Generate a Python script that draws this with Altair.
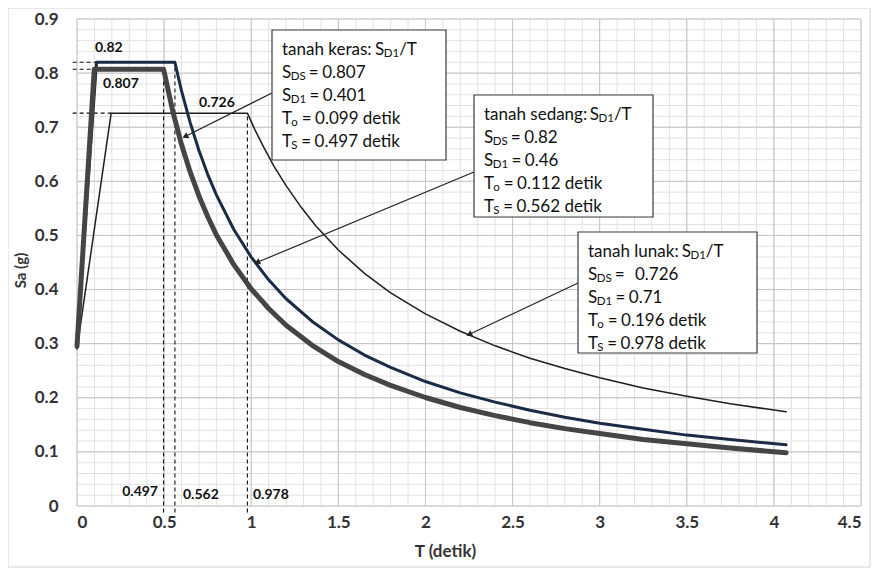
import math
import altair as alt
import numpy as np
import pandas as pd

# ---------------- data ----------------
soil = ["tanah keras", "tanah sedang", "tanah lunak"]
SDS = [0.807, 0.82, 0.726]
SD1 = [0.401, 0.46, 0.71]
T0 = [0.099, 0.112, 0.196]
TS = [0.497, 0.562, 0.978]

keras_T = [0, 0.099, 0.497, 0.55, 0.6, 0.65, 0.7, 0.75, 0.8, 0.9, 1.0, 1.1, 1.2, 1.35, 1.5,
           1.65, 1.8, 2.0, 2.2, 2.4, 2.6, 2.8, 3.0, 3.25, 3.5, 3.75, 4.07]
keras_Sa = [0.295, 0.807, 0.807, 0.729, 0.668, 0.617, 0.573, 0.535, 0.501, 0.446, 0.401, 0.365,
            0.334, 0.297, 0.267, 0.243, 0.223, 0.2005, 0.182, 0.167, 0.154, 0.143, 0.134,
            0.123, 0.115, 0.107, 0.0985]

sedang_T = [0, 0.112, 0.562, 0.6, 0.65, 0.7, 0.75, 0.8, 0.9, 1.0, 1.1, 1.2, 1.35, 1.5, 1.65,
            1.8, 2.0, 2.2, 2.4, 2.6, 2.8, 3.0, 3.25, 3.5, 3.75, 4.07]
sedang_Sa = [0.31, 0.82, 0.82, 0.767, 0.708, 0.657, 0.613, 0.575, 0.511, 0.46, 0.418, 0.383,
             0.341, 0.307, 0.279, 0.256, 0.23, 0.209, 0.192, 0.177, 0.164, 0.153, 0.142,
             0.131, 0.123, 0.113]

lunak_T = [0, 0.196, 0.978, 1.02, 1.07, 1.13, 1.2, 1.28, 1.37, 1.5, 1.65, 1.8, 2.0, 2.2, 2.4,
           2.6, 2.8, 3.0, 3.25, 3.5, 3.75, 4.07]
lunak_Sa = [0.290, 0.726, 0.726, 0.696, 0.664, 0.628, 0.592, 0.555, 0.518, 0.473, 0.430,
            0.394, 0.355, 0.323, 0.296, 0.273, 0.254, 0.237, 0.218, 0.203, 0.189, 0.174]

x_ticks = [0, 0.5, 1, 1.5, 2, 2.5, 3, 3.5, 4, 4.5]
y_ticks = [0, 0.1, 0.2, 0.3, 0.4, 0.5, 0.6, 0.7, 0.8, 0.9]

# ---------------- layout helpers ----------------
W_PLOT, H_PLOT = 784, 487
XMAX, YMAX = 4.5, 0.9
PXX = W_PLOT / XMAX
PXY = H_PLOT / YMAX
FONT = "Lato"


def px2T(px):
    return (px - 77) / PXX


def px2S(py):
    return (506 - py) / PXY


xs = alt.Scale(domain=[0, XMAX], nice=False, zero=False)
ys = alt.Scale(domain=[0, YMAX], nice=False, zero=False)

# ---------------- grid ----------------
x_minor = [round(v, 2) for v in np.arange(0, XMAX + 1e-9, 0.1)]
y_minor = [round(v, 3) for v in np.arange(0, YMAX + 1e-9, 0.02)]

vgrid_minor = alt.Chart(pd.DataFrame({"x": x_minor})).mark_rule(color="#e2e2e2", strokeWidth=1).encode(
    x=alt.X("x:Q", scale=xs), y=alt.datum(0), y2=alt.datum(YMAX))
hgrid_minor = alt.Chart(pd.DataFrame({"y": y_minor})).mark_rule(color="#e2e2e2", strokeWidth=1).encode(
    y=alt.Y("y:Q", scale=ys), x=alt.datum(0), x2=alt.datum(XMAX))
vgrid_major = alt.Chart(pd.DataFrame({"x": x_ticks})).mark_rule(color="#c4c4c4", strokeWidth=1).encode(
    x=alt.X("x:Q", scale=xs), y=alt.datum(0), y2=alt.datum(YMAX))
hgrid_major = alt.Chart(pd.DataFrame({"y": y_ticks})).mark_rule(color="#c4c4c4", strokeWidth=1).encode(
    y=alt.Y("y:Q", scale=ys), x=alt.datum(0), x2=alt.datum(XMAX))

# axes layer (labels only)
axes = alt.Chart(pd.DataFrame({"x": [0], "y": [0]})).mark_point(opacity=0).encode(
    x=alt.X("x:Q", scale=xs, axis=alt.Axis(
        values=x_ticks, format="~g", grid=False, domain=False, ticks=False,
        labelFont=FONT, labelFontSize=17, labelFontWeight="bold", labelColor="#333333",
        labelPadding=8, title="T (detik)", titleFont=FONT, titleFontSize=17,
        titleFontWeight="bold", titleColor="#333333", titleX=368, titleY=45,
        titleBaseline="middle")),
    y=alt.Y("y:Q", scale=ys, axis=alt.Axis(
        values=y_ticks, format="~g", grid=False, domain=False, ticks=False,
        labelFont=FONT, labelFontSize=17, labelFontWeight="bold", labelColor="#333333",
        labelPadding=19, title="Sa (g)", titleFont=FONT, titleFontSize=15,
        titleFontWeight="bold", titleColor="#333333", titleX=-57, titleY=251,
        titleBaseline="middle", titleAlign="center", titleAngle=-90)),
)

# ---------------- dashed guides ----------------
hdash = pd.DataFrame({"x": [-0.025] * 3, "x2": T0, "y": SDS})
vdash = pd.DataFrame({"x": TS, "y": [-0.012] * 3, "y2": SDS})
hd = alt.Chart(hdash).mark_rule(color="#111111", strokeWidth=1.1, strokeDash=[4, 3]).encode(
    x=alt.X("x:Q", scale=xs), x2="x2:Q", y=alt.Y("y:Q", scale=ys))
vd = alt.Chart(vdash).mark_rule(color="#111111", strokeWidth=1.1, strokeDash=[4, 3]).encode(
    x=alt.X("x:Q", scale=xs), y=alt.Y("y:Q", scale=ys), y2="y2:Q")

# ---------------- curves ----------------
def curve(T, S, color, width):
    return alt.Chart(pd.DataFrame({"T": T, "Sa": S})).mark_line(
        color=color, strokeWidth=width, strokeJoin="round", strokeCap="round").encode(
        x=alt.X("T:Q", scale=xs), y=alt.Y("Sa:Q", scale=ys))


c_lunak = curve(lunak_T, lunak_Sa, "#1e1e1e", 1.5)
c_sedang = curve(sedang_T, sedang_Sa, "#1b2a45", 3)
c_keras = curve(keras_T, keras_Sa, "#454545", 5)

# ---------------- value labels ----------------
val_df = pd.DataFrame({
    "x": [px2T(95), px2T(103), px2T(199)],
    "y": [px2S(48), px2S(84), px2S(103)],
    "t": [f"{SDS[1]:g}", f"{SDS[0]:g}", f"{SDS[2]:g}"],
})
val_l = alt.Chart(val_df).mark_text(align="left", baseline="middle", font=FONT, fontSize=14,
                                    fontWeight="bold", color="#111111").encode(
    x=alt.X("x:Q", scale=xs), y=alt.Y("y:Q", scale=ys), text="t:N")
ts_df = pd.DataFrame({
    "x": [px2T(158), px2T(183), px2T(253)],
    "y": [px2S(492), px2S(495), px2S(495)],
    "t": [f"{v:g}" for v in TS],
})
ts_r = alt.Chart(ts_df.iloc[[0]]).mark_text(align="right", baseline="middle", font=FONT, fontSize=14,
                                            fontWeight="bold", color="#111111").encode(
    x=alt.X("x:Q", scale=xs), y=alt.Y("y:Q", scale=ys), text="t:N")
ts_l = alt.Chart(ts_df.iloc[[1, 2]]).mark_text(align="left", baseline="middle", font=FONT, fontSize=14,
                                               fontWeight="bold", color="#111111").encode(
    x=alt.X("x:Q", scale=xs), y=alt.Y("y:Q", scale=ys), text="t:N")

# ---------------- annotation boxes ----------------
box_px = [(272, 30, 446, 160), (474, 95, 653, 217), (578, 232, 757, 353)]
box_df = pd.DataFrame({
    "x": [px2T(b[0]) for b in box_px], "x2": [px2T(b[2]) for b in box_px],
    "y": [px2S(b[1]) for b in box_px], "y2": [px2S(b[3]) for b in box_px],
})
boxes = alt.Chart(box_df).mark_rect(fill="white", stroke="#3a3a3a", strokeWidth=1.2).encode(
    x=alt.X("x:Q", scale=xs), x2="x2:Q", y=alt.Y("y:Q", scale=ys), y2="y2:Q")

# approximate Lato advance widths (em)
LW = {' ': 0.2, ':': 0.24, '.': 0.22, '/': 0.38, '=': 0.58, 'S': 0.52, 'T': 0.55, 'D': 0.7,
      'o': 0.56, 'a': 0.5, 'n': 0.56, 'h': 0.56, 'k': 0.52, 'e': 0.53, 'r': 0.37, 's': 0.43,
      'd': 0.56, 'g': 0.52, 'l': 0.25, 'u': 0.56, 't': 0.36, 'i': 0.25}


def tw(s, size):
    return sum(LW.get(c, 0.58) for c in s) * size


MAIN, SUB = 17, 11.5
main_rows, sub_rows = [], []
for i in range(3):
    lines = [
        [(f"{soil[i]}:", MAIN), (" S", MAIN), ("D1", SUB), ("/T", MAIN)],
        [("S", MAIN), ("DS", SUB), (" = ", MAIN), (("  " if i == 2 else "") + f"{SDS[i]:g}", MAIN)],
        [("S", MAIN), ("D1", SUB), (" = ", MAIN), (f"{SD1[i]:g}", MAIN)],
        [("T", MAIN), ("o", SUB), (" = ", MAIN), (f"{T0[i]:.3f} detik", MAIN)],
        [("T", MAIN), ("S", SUB), (" = ", MAIN), (f"{TS[i]:.3f} detik", MAIN)],
    ]
    left_px = box_px[i][0] + 10
    for j, pieces in enumerate(lines):
        ypx = box_px[i][1] + 20 + 23 * j
        xcur = left_px
        for text, size in pieces:
            lead = len(text) - len(text.lstrip(" "))
            xcur += lead * LW[' '] * size
            core = text.strip(" ")
            row = {"x": px2T(xcur), "t": core}
            if size == SUB:
                row["y"] = px2S(ypx + 4)
                sub_rows.append(row)
            else:
                row["y"] = px2S(ypx)
                main_rows.append(row)
            trail = len(text) - len(text.rstrip(" "))
            xcur += tw(core, size) + trail * LW[' '] * size + (0.6 if size == SUB else 0)

txt_main = alt.Chart(pd.DataFrame(main_rows)).mark_text(
    align="left", baseline="middle", font=FONT, fontSize=MAIN, color="#111111").encode(
    x=alt.X("x:Q", scale=xs), y=alt.Y("y:Q", scale=ys), text="t:N")
txt_sub = alt.Chart(pd.DataFrame(sub_rows)).mark_text(
    align="left", baseline="middle", font=FONT, fontSize=SUB, color="#111111").encode(
    x=alt.X("x:Q", scale=xs), y=alt.Y("y:Q", scale=ys), text="t:N")

# ---------------- arrows ----------------
arr_start = [(px2T(272), px2S(93)), (px2T(474), px2S(172)), (px2T(578), px2S(283))]
arr_tip = [(px2T(186), px2S(136)), (px2T(258), px2S(262)), (px2T(470), px2S(334))]
ang = []
for (sx, sy), (tx, ty) in zip(arr_start, arr_tip):
    dx = (tx - sx) * PXX
    dy = -(ty - sy) * PXY
    ang.append((math.degrees(math.atan2(dx, -dy)) + 360) % 360)
arr_df = pd.DataFrame({
    "x": [s[0] for s in arr_start], "y": [s[1] for s in arr_start],
    "x2": [t[0] for t in arr_tip], "y2": [t[1] for t in arr_tip], "ang": ang,
})
arr_lines = alt.Chart(arr_df).mark_rule(color="#222222", strokeWidth=1.2).encode(
    x=alt.X("x:Q", scale=xs), y=alt.Y("y:Q", scale=ys), x2="x2:Q", y2="y2:Q")
arr_heads = alt.Chart(arr_df).mark_point(shape="triangle", filled=True, size=45, color="#222222",
                                         opacity=1).encode(
    x=alt.X("x2:Q", scale=xs), y=alt.Y("y2:Q", scale=ys), angle=alt.Angle("ang:Q", scale=None))

# ---------------- outer frame ----------------
frame = alt.Chart(pd.DataFrame({"a": [0]})).mark_rect(fill=None, stroke="#d4d4d4", strokeWidth=1).encode(
    x=alt.value(-69), x2=alt.value(793), y=alt.value(-11), y2=alt.value(548))

chart = alt.layer(
    frame, vgrid_minor, hgrid_minor, vgrid_major, hgrid_major, axes,
    hd, vd, c_lunak, c_sedang, c_keras,
    val_l, ts_r, ts_l,
    arr_lines, arr_heads,
    boxes, txt_main, txt_sub,
).properties(
    width=W_PLOT, height=H_PLOT,
    autosize=alt.AutoSizeParams(type="none"),
    padding={"left": 69, "top": 11, "right": 10, "bottom": 62},
    background="white",
).configure_view(stroke=None)

chart.save("out.html", embed_options={"renderer": "svg", "actions": False})
